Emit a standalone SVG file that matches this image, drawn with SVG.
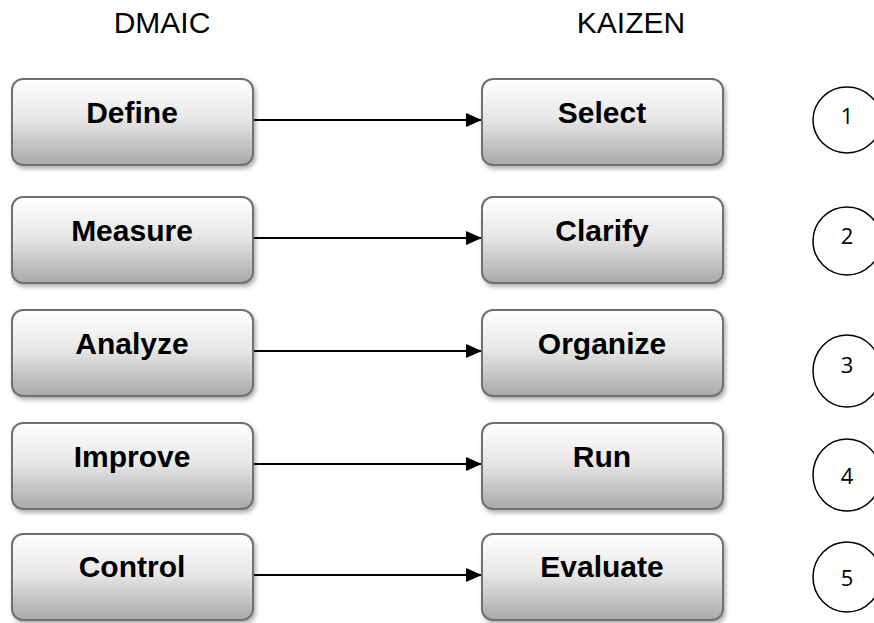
<svg xmlns="http://www.w3.org/2000/svg" width="874" height="623" viewBox="0 0 874 623">
<style>
.box{fill:url(#g);stroke:#6f6f6f;stroke-width:2;filter:url(#sh)}
.lbl{font-family:"Liberation Sans",Arial,sans-serif;font-weight:bold;font-size:30px;text-anchor:middle;fill:#000}
.hdr{font-family:"Liberation Sans",Arial,sans-serif;font-size:30px;text-anchor:middle;fill:#000}
.num{font-family:"Open Sans","Liberation Sans",sans-serif;font-size:22px;text-anchor:middle;fill:#000}
.circ{fill:#fff;stroke:#000;stroke-width:1.5}
.con line{stroke:#000;stroke-width:2;marker-end:url(#ah)}
</style>
<defs>
<linearGradient id="g" x1="0" y1="0" x2="0" y2="1">
<stop offset="0" stop-color="#ffffff"/>
<stop offset="0.45" stop-color="#e8e8e8"/>
<stop offset="1" stop-color="#a9a9a9"/>
</linearGradient>
<filter id="sh" x="-10%" y="-10%" width="120%" height="130%">
<feDropShadow dx="2" dy="3" stdDeviation="2" flood-color="#000" flood-opacity="0.3"/>
</filter>
<marker id="ah" markerWidth="16" markerHeight="14" refX="16" refY="7" orient="auto" markerUnits="userSpaceOnUse">
<path d="M0,0 L16,7 L0,14 Z" fill="#000"/>
</marker>
</defs>
<text class="hdr" x="162" y="33">DMAIC</text>
<text class="hdr" x="631" y="33">KAIZEN</text>
<g class="con">
<line x1="253" y1="120" x2="482" y2="120"/>
<line x1="253" y1="238" x2="482" y2="238"/>
<line x1="253" y1="351" x2="482" y2="351"/>
<line x1="253" y1="464" x2="482" y2="464"/>
<line x1="253" y1="575" x2="482" y2="575"/>
</g>
<g id="define"><rect class="box" x="12" y="79" width="241" height="86" rx="11"/><text class="lbl" x="132" y="123">Define</text></g>
<g id="measure"><rect class="box" x="12" y="197" width="241" height="86" rx="11"/><text class="lbl" x="132" y="241">Measure</text></g>
<g id="analyze"><rect class="box" x="12" y="310" width="241" height="86" rx="11"/><text class="lbl" x="132" y="354">Analyze</text></g>
<g id="improve"><rect class="box" x="12" y="423" width="241" height="86" rx="11"/><text class="lbl" x="132" y="467">Improve</text></g>
<g id="control"><rect class="box" x="12" y="534" width="241" height="86" rx="11"/><text class="lbl" x="132" y="577">Control</text></g>
<g id="select"><rect class="box" x="482" y="79" width="241" height="86" rx="11"/><text class="lbl" x="602" y="123">Select</text></g>
<g id="clarify"><rect class="box" x="482" y="197" width="241" height="86" rx="11"/><text class="lbl" x="602" y="241">Clarify</text></g>
<g id="organize"><rect class="box" x="482" y="310" width="241" height="86" rx="11"/><text class="lbl" x="602" y="354">Organize</text></g>
<g id="run"><rect class="box" x="482" y="423" width="241" height="86" rx="11"/><text class="lbl" x="602" y="467">Run</text></g>
<g id="evaluate"><rect class="box" x="482" y="534" width="241" height="86" rx="11"/><text class="lbl" x="602" y="577">Evaluate</text></g>
<g id="n1"><ellipse class="circ" cx="847" cy="120" rx="34" ry="33"/><text class="num" x="847" y="124">1</text></g>
<g id="n2"><ellipse class="circ" cx="847" cy="241" rx="34" ry="34"/><text class="num" x="847" y="244">2</text></g>
<g id="n3"><ellipse class="circ" cx="847" cy="371" rx="34" ry="36"/><text class="num" x="847" y="373">3</text></g>
<g id="n4"><ellipse class="circ" cx="847" cy="475" rx="34" ry="36"/><text class="num" x="847" y="484">4</text></g>
<g id="n5"><ellipse class="circ" cx="847" cy="577" rx="34" ry="35"/><text class="num" x="847" y="586">5</text></g>
</svg>
